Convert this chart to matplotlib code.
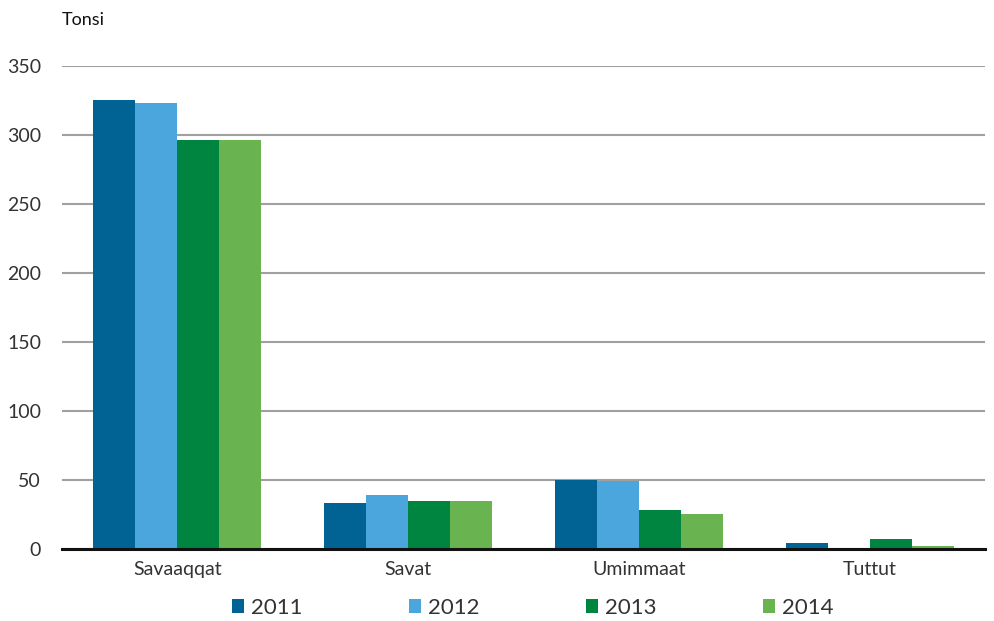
import matplotlib.pyplot as plt
import numpy as np

plt.rcParams['font.family'] = ['Lato', 'DejaVu Sans']

categories = ['Savaaqqat', 'Savat', 'Umimmaat', 'Tuttut']
years = ['2011', '2012', '2013', '2014']
values = {
    '2011': [325, 33, 50, 4],
    '2012': [323, 39, 49, 0],
    '2013': [296, 35, 28, 7],
    '2014': [296, 35, 25, 2],
}
colors = ['#006394', '#4ba6dd', '#008540', '#6ab351']

fig = plt.figure(figsize=(9.95, 6.21), dpi=100)
ax = fig.add_axes([0.0623, 0.116, 0.9277, 0.778])

x = np.arange(len(categories))
w = 0.182
for i, yr in enumerate(years):
    ax.bar(x + (i - 1.5) * w, values[yr], width=w, color=colors[i], label=yr, zorder=3)

ax.set_xlim(-0.5, 3.5)
ax.set_ylim(0, 350)
ax.set_yticks(np.arange(0, 351, 50))
ax.yaxis.grid(True, color='#a0a0a0', linewidth=1.5, zorder=0)
ax.set_axisbelow(True)
for s in ['top', 'right', 'left']:
    ax.spines[s].set_visible(False)
ax.spines['bottom'].set_color('#111111')
ax.spines['bottom'].set_linewidth(2.2)
ax.spines['bottom'].set_zorder(4)
ax.tick_params(axis='both', length=0, labelsize=14, colors='#333333', pad=9)
ax.tick_params(axis='y', pad=15)
ax.set_xticks(x)
ax.set_xticklabels(categories)

fig.text(0.0623, 0.968, 'Tonsi', fontsize=13, color='#111111', va='center')

ax.legend(loc='upper center', bbox_to_anchor=(0.51, -0.06), ncol=4, frameon=False,
          fontsize=16, handlelength=0.55, handleheight=0.55, handletextpad=0.3,
          columnspacing=4.8, labelcolor='#333333')

fig.savefig('out.png', dpi=100)
